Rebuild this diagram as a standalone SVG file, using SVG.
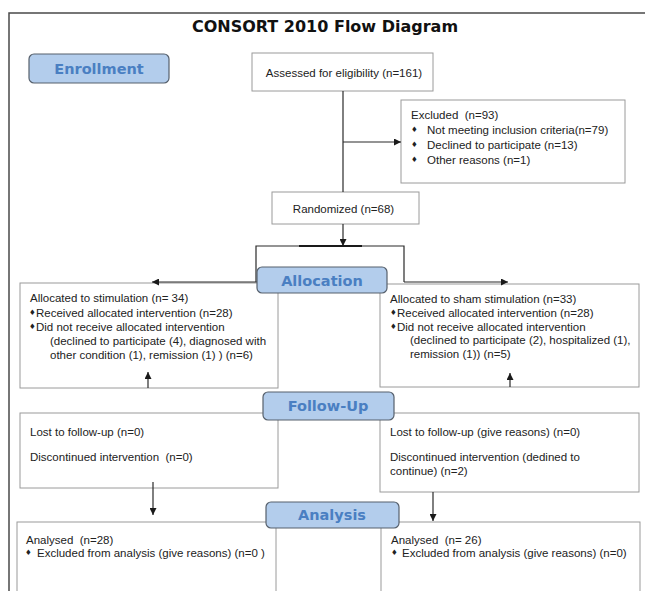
<svg xmlns="http://www.w3.org/2000/svg" width="645" height="591" viewBox="0 0 645 591">
<style>
  .bx{fill:#fff;stroke:#9a9a9a;stroke-width:1}
  .stage{fill:#b3cdec;stroke:#56606c;stroke-width:1.2}
  .stxt{font-family:"DejaVu Sans",sans-serif;font-weight:bold;font-size:14.5px;fill:#4a7fc2;text-anchor:middle}
  .t{font-family:"Liberation Sans",Arial,sans-serif;font-size:11.5px;fill:#222;white-space:pre}
  .b{font-family:"DejaVu Sans",sans-serif;font-size:7.5px;fill:#222}
  .ln{fill:none;stroke:#2a2a2a;stroke-width:1.2}
</style>
<defs>
  <marker id="ah" viewBox="0 0 10 10" refX="10" refY="5" markerWidth="7" markerHeight="7" markerUnits="userSpaceOnUse" orient="auto">
    <path d="M0,0 L10,5 L0,10 z" fill="#1a1a1a"/>
  </marker>
</defs>
<rect width="645" height="591" fill="#fff"/>
<path d="M9,591 V13 H645" fill="none" stroke="#4a4a4a" stroke-width="1.5"/>
<text x="325" y="32" font-family="DejaVu Sans,sans-serif" font-weight="bold" font-size="16" fill="#111" text-anchor="middle">CONSORT 2010 Flow Diagram</text>

<g id="assessed">
  <rect class="bx" x="252" y="53" width="181" height="38"/>
  <text class="t" x="344" y="77" text-anchor="middle">Assessed for eligibility (n=161)</text>
</g>

<g id="excluded">
  <rect class="bx" x="401" y="100" width="224" height="83"/>
  <text class="t" x="411" y="119">Excluded  (n=93)</text>
  <text class="b" x="411" y="132">♦</text>
  <text class="t" x="427" y="134">Not meeting inclusion criteria(n=79)</text>
  <text class="b" x="411" y="147">♦</text>
  <text class="t" x="427" y="149">Declined to participate (n=13)</text>
  <text class="b" x="411" y="162">♦</text>
  <text class="t" x="427" y="164">Other reasons (n=1)</text>
</g>

<g id="randomized">
  <rect class="bx" x="272" y="192" width="147" height="32"/>
  <text class="t" x="343.5" y="213" text-anchor="middle">Randomized (n=68)</text>
</g>

<g id="alloc-left">
  <rect class="bx" x="20" y="283" width="258" height="105"/>
  <text class="t" x="30" y="302">Allocated to stimulation (n= 34)</text>
  <text class="b" x="29" y="314.5">♦</text>
  <text class="t" x="36" y="316.5">Received allocated intervention (n=28)</text>
  <text class="b" x="29" y="329">♦</text>
  <text class="t" x="36" y="331">Did not receive allocated intervention</text>
  <text class="t" x="50" y="345">(declined to participate (4), diagnosed with</text>
  <text class="t" x="50" y="359">other condition (1), remission (1) ) (n=6)</text>
</g>

<g id="alloc-right">
  <rect class="bx" x="380" y="284" width="259" height="103"/>
  <text class="t" x="390" y="303">Allocated to sham stimulation (n=33)</text>
  <text class="b" x="390" y="315">♦</text>
  <text class="t" x="397" y="317">Received allocated intervention (n=28)</text>
  <text class="b" x="390" y="328.5">♦</text>
  <text class="t" x="397" y="330.5">Did not receive allocated intervention</text>
  <text class="t" x="410" y="344">(declined to participate (2), hospitalized (1),</text>
  <text class="t" x="410" y="357.5">remission (1)) (n=5)</text>
</g>

<g id="follow-left">
  <rect class="bx" x="20" y="413" width="258" height="75"/>
  <text class="t" x="30" y="436">Lost to follow-up (n=0)</text>
  <text class="t" x="30" y="461">Discontinued intervention  (n=0)</text>
</g>

<g id="follow-right">
  <rect class="bx" x="380" y="413" width="259" height="79"/>
  <text class="t" x="390" y="436">Lost to follow-up (give reasons) (n=0)</text>
  <text class="t" x="390" y="461">Discontinued intervention (dedined to</text>
  <text class="t" x="390" y="475">continue) (n=2)</text>
</g>

<g id="analysis-left">
  <rect class="bx" x="17" y="522" width="259" height="80"/>
  <text class="t" x="26" y="544">Analysed  (n=28)</text>
  <text class="b" x="25" y="555">♦</text>
  <text class="t" x="37" y="557">Excluded from analysis (give reasons) (n=0 )</text>
</g>

<g id="analysis-right">
  <rect class="bx" x="381" y="522" width="259" height="80"/>
  <text class="t" x="391" y="544">Analysed  (n= 26)</text>
  <text class="b" x="391" y="555">♦</text>
  <text class="t" x="402" y="557">Excluded from analysis (give reasons) (n=0)</text>
</g>

<g id="connectors">
  <path class="ln" d="M343,91 V192"/>
  <path class="ln" d="M343,142 H401" marker-end="url(#ah)"/>
  <path class="ln" d="M343,224 V246" marker-end="url(#ah)"/>
  <path class="ln" d="M256,282 V246 H404 V282"/>
  <path d="M299,246 H362" stroke="#1a1a1a" stroke-width="2"/>
  <path class="ln" d="M257,282 H152" marker-end="url(#ah)"/>
  <path class="ln" d="M404,282 H508" marker-end="url(#ah)"/>
  <path class="ln" d="M148,388 V372" marker-end="url(#ah)"/>
  <path class="ln" d="M510,387 V373" marker-end="url(#ah)"/>
  <path class="ln" d="M153,482 V515" marker-end="url(#ah)"/>
  <path class="ln" d="M433,492 V521" marker-end="url(#ah)"/>
</g>

<g id="enrollment">
  <rect class="stage" x="29" y="54" width="140" height="29" rx="5"/>
  <text class="stxt" x="99" y="73.5">Enrollment</text>
</g>

<g id="allocation">
  <rect class="stage" x="257" y="267" width="130" height="26" rx="5"/>
  <text class="stxt" x="322" y="286">Allocation</text>
</g>

<g id="followup">
  <rect class="stage" x="263" y="392" width="131" height="28" rx="5"/>
  <text class="stxt" x="328" y="411">Follow-Up</text>
</g>

<g id="analysis">
  <rect class="stage" x="266" y="502" width="133" height="26" rx="5"/>
  <text class="stxt" x="332" y="520">Analysis</text>
</g>
</svg>
